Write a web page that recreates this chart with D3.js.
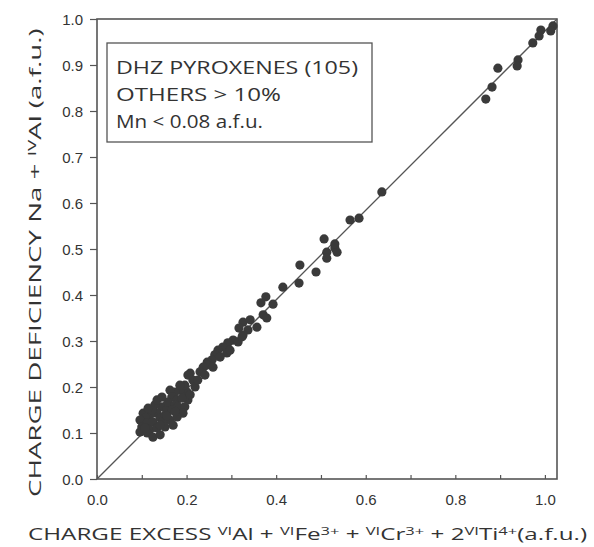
<!DOCTYPE html>
<html>
<head>
<meta charset="utf-8">
<script src="https://cdn.jsdelivr.net/npm/d3@7"></script>
<style>
  body { margin: 0; background: #fff; }
  svg { font-family: "Open Sans", "DejaVu Sans", sans-serif; }
</style>
</head>
<body>
<div id="chart"></div>
<script>
// values (a.f.u.)
var chargeExcess = [
  1.018, 1.013, 0.991, 0.987, 0.973, 0.940, 0.938, 0.895, 0.882, 0.868,
  0.636, 0.585, 0.565, 0.507, 0.513, 0.531, 0.536, 0.513, 0.531, 0.489,
  0.453, 0.451, 0.415, 0.393, 0.377, 0.366, 0.371, 0.379,
  0.357, 0.337, 0.326, 0.317, 0.326, 0.304, 0.292, 0.281, 0.270, 0.290,
  0.263, 0.257, 0.246, 0.246, 0.259, 0.237, 0.230, 0.208, 0.214, 0.219,
  0.225, 0.201, 0.185, 0.174, 0.163, 0.167, 0.179, 0.203, 0.190, 0.196,
  0.145, 0.156, 0.129, 0.158, 0.174, 0.181, 0.196, 0.192, 0.167, 0.134,
  0.118, 0.103, 0.107, 0.096, 0.112, 0.125, 0.141, 0.152, 0.147, 0.163,
  0.179, 0.152, 0.100, 0.118, 0.134, 0.096, 0.112, 0.125, 0.141, 0.241,
  0.297, 0.134, 0.145, 0.185, 0.203, 0.123, 0.141, 0.208, 0.114, 0.170,
  0.107, 0.315, 0.324, 0.275, 0.174, 0.156, 0.342
];
var chargeDeficiency = [
  0.985, 0.974, 0.976, 0.963, 0.948, 0.911, 0.898, 0.893, 0.852, 0.826,
  0.624, 0.567, 0.563, 0.522, 0.493, 0.502, 0.493, 0.480, 0.511, 0.450,
  0.465, 0.426, 0.417, 0.380, 0.396, 0.383, 0.357, 0.350,
  0.330, 0.324, 0.341, 0.328, 0.313, 0.302, 0.296, 0.287, 0.280, 0.274,
  0.270, 0.259, 0.254, 0.248, 0.243, 0.243, 0.233, 0.230, 0.215, 0.200,
  0.215, 0.189, 0.193, 0.189, 0.193, 0.178, 0.172, 0.172, 0.176, 0.204,
  0.157, 0.150, 0.161, 0.167, 0.161, 0.157, 0.157, 0.143, 0.150, 0.143,
  0.139, 0.143, 0.133, 0.128, 0.122, 0.124, 0.133, 0.139, 0.124, 0.128,
  0.135, 0.113, 0.113, 0.107, 0.111, 0.102, 0.100, 0.091, 0.096, 0.226,
  0.280, 0.172, 0.178, 0.204, 0.226, 0.150, 0.117, 0.183, 0.154, 0.117,
  0.111, 0.298, 0.309, 0.265, 0.146, 0.137, 0.346
];
var tickValues = [0.0, 0.1, 0.2, 0.3, 0.4, 0.5, 0.6, 0.7, 0.8, 0.9, 1.0];
var xLabelValues = [0.0, 0.2, 0.4, 0.6, 0.8, 1.0];
var yLabelValues = [0.0, 0.1, 0.2, 0.3, 0.4, 0.5, 0.6, 0.7, 0.8, 0.9, 1.0];
var oneToOneX = [0, 1.027];
var oneToOneY = [0, 1.0];
var legendLines = ["DHZ PYROXENES (105)", "OTHERS > 10%", "Mn < 0.08 a.f.u."];

var ink = "#333";
var svg = d3.select("#chart").append("svg")
  .attr("width", 594)
  .attr("height", 547);

var x = d3.scaleLinear().domain([0, 1.027]).range([97, 557]);
var y = d3.scaleLinear().domain([0, 1.0]).range([479, 19]);

// frame
svg.append("rect")
  .attr("x", x(0)).attr("y", y(1))
  .attr("width", x(1.027) - x(0)).attr("height", y(0) - y(1))
  .attr("fill", "none").attr("stroke", "#555").attr("stroke-width", 1.6);

// y axis ticks (outside, left)
var yAxis = d3.axisLeft(y).tickValues(yLabelValues).tickSize(7).tickPadding(7)
  .tickFormat(d3.format(".1f"));
var gy = svg.append("g").attr("transform", "translate(" + x(0) + ",0)").call(yAxis);
gy.select(".domain").remove();
gy.selectAll("line").attr("stroke", "#555").attr("stroke-width", 1.2);
gy.selectAll("text").attr("fill", ink).attr("font-size", 15).attr("dy", "0.35em");

// x axis: ticks inward, labels every 0.2
var xAxis = d3.axisBottom(x).tickValues(tickValues).tickSize(-4).tickPadding(12)
  .tickFormat(function(d) {
    return xLabelValues.some(function(v) { return Math.abs(v - d) < 1e-9; }) ? d3.format(".1f")(d) : "";
  });
var gx = svg.append("g").attr("transform", "translate(0," + y(0) + ")").call(xAxis);
gx.select(".domain").remove();
gx.selectAll("line").attr("stroke", "#555").attr("stroke-width", 1.2);
gx.selectAll("text").attr("fill", ink).attr("font-size", 15).attr("dy", "0.9em");

// 1:1 line
svg.append("line")
  .attr("x1", x(oneToOneX[0])).attr("y1", y(oneToOneY[0]))
  .attr("x2", x(oneToOneX[1])).attr("y2", y(oneToOneY[1]))
  .attr("stroke", "#555").attr("stroke-width", 1.3);

// points
svg.append("g")
  .selectAll("circle")
  .data(chargeExcess)
  .enter()
  .append("circle")
  .attr("cx", function(d) { return x(d); })
  .attr("cy", function(d, i) { return y(chargeDeficiency[i]); })
  .attr("r", 4.6)
  .attr("fill", "#3a3a3a");

// legend box
svg.append("rect")
  .attr("x", 107).attr("y", 43).attr("width", 265).attr("height", 99)
  .attr("fill", "none").attr("stroke", "#555").attr("stroke-width", 1.3);
var legendWidths = [242, 165, 147];
var legendBase = [74, 101, 128];
legendLines.forEach(function(t, i) {
  svg.append("text")
    .attr("x", 116).attr("y", legendBase[i])
    .attr("font-size", 19).attr("fill", ink)
    .attr("textLength", legendWidths[i]).attr("lengthAdjust", "spacingAndGlyphs")
    .text(t);
});

// helper for labels with superscripts
function richLabel(g, parts, size) {
  var t = g.append("text").attr("font-size", size).attr("fill", ink);
  parts.forEach(function(p) {
    var s = t.append("tspan").text(p[0]);
    if (p[1]) s.attr("font-size", size * 0.68).attr("baseline-shift", "45%");
  });
  return t;
}

// x label
var gxl = svg.append("g");
var xl = richLabel(gxl, [
  ["CHARGE EXCESS "], ["VI", 1], ["Al + "], ["VI", 1], ["Fe"], ["3+", 1], [" + "],
  ["VI", 1], ["Cr"], ["3+", 1], [" + 2"], ["VI", 1], ["Ti"], ["4+", 1], ["(a.f.u.)"]
], 16);
var wx = xl.node().getBBox().width;
gxl.attr("transform", "translate(28,540) scale(" + (560 / wx) + ",1)");

// y label
var gyl = svg.append("g");
var yl = richLabel(gyl, [
  ["CHARGE DEFICIENCY  Na + "], ["IV", 1], ["Al (a.f.u.)"]
], 17);
var wy = yl.node().getBBox().width;
gyl.attr("transform", "translate(41,497) rotate(-90) scale(" + (469 / wy) + ",1)");
</script>
</body>
</html>
